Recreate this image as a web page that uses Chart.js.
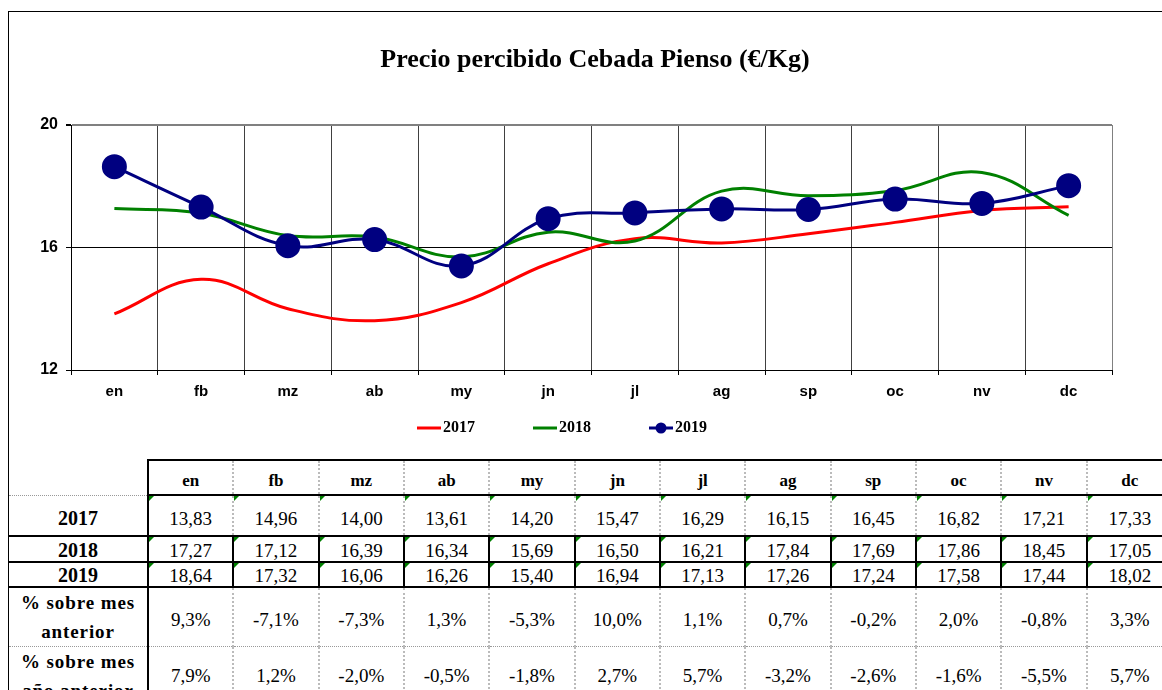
<!DOCTYPE html>
<html>
<head>
<meta charset="utf-8">
<script src="https://cdn.jsdelivr.net/npm/chart.js@4/dist/chart.umd.min.js"></script>
<style>
  body { margin: 0; width: 1162px; height: 690px; overflow: hidden; background: #fff; position: relative; }
  #frame { position: absolute; left: 8px; top: 11px; width: 1200px; height: 700px; border-left: 1px solid #000; border-top: 1px solid #000; }
  #chart { position: absolute; left: 0; top: 0; }
  #tbl { position: absolute; left: 9px; top: 459px; border-collapse: collapse; table-layout: fixed; width: 1163px; font-family: 'Liberation Serif', 'Times New Roman', serif; color: #000; }
  #tbl td { padding: 0; text-align: center; position: relative; }
  #tbl td.hd { font-weight: bold; font-size: 17px; padding-top: 6px; border-top: 2px solid #000; border-left: 2px dotted #bbb; border-bottom: 2px solid #000; }
  #tbl td.yr { font-weight: bold; font-size: 20px; border-right: 2px solid #000; border-bottom: 2px solid #000; }
  #tbl td.v { font-size: 19px; border-left: 2px dotted #bbb; border-bottom: 2px solid #000; }
  #tbl td.v::before { content: ''; position: absolute; left: 0; top: 0; border-top: 5px solid #008000; border-right: 5px solid transparent; }
  #tbl tr.r18 td.v, #tbl tr.r19 td.v { border-left: 2px solid #000; vertical-align: bottom; line-height: 20px; }
  #tbl tr.r18 td.yr, #tbl tr.r19 td.yr { vertical-align: bottom; line-height: 21px; }
  #tbl td.lb { font-weight: bold; font-size: 19px; letter-spacing: 0.9px; line-height: 29px; border-right: 2px solid #000; }
  #tbl td.p { font-size: 19px; border-left: 2px dotted #bbb; padding-top: 6px; }
  #tbl tr.p1 td { border-bottom: 1px dotted #999; }
  #tbl td.first { border-left: 2px solid #000; }
</style>
</head>
<body>
<div id="frame"></div>
<canvas id="chart" width="1162" height="455"></canvas>
<table id="tbl"></table>
<script>
const months = ['en', 'fb', 'mz', 'ab', 'my', 'jn', 'jl', 'ag', 'sp', 'oc', 'nv', 'dc'];
const years = ['2017', '2018', '2019'];
const precio2017 = [13.83, 14.96, 14.00, 13.61, 14.20, 15.47, 16.29, 16.15, 16.45, 16.82, 17.21, 17.33];
const precio2018 = [17.27, 17.12, 16.39, 16.34, 15.69, 16.50, 16.21, 17.84, 17.69, 17.86, 18.45, 17.05];
const precio2019 = [18.64, 17.32, 16.06, 16.26, 15.40, 16.94, 17.13, 17.26, 17.24, 17.58, 17.44, 18.02];
const varMesAnterior = [9.3, -7.1, -7.3, 1.3, -5.3, 10.0, 1.1, 0.7, -0.2, 2.0, -0.8, 3.3];
const varAnioAnterior = [7.9, 1.2, -2.0, -0.5, -1.8, 2.7, 5.7, -3.2, -2.6, -1.6, -5.5, 5.7];
const seriesColors = ['#FF0000', '#008000', '#000080'];

// legend marks: short line (plus dot for 2019)
function legendMark(color, dot) {
    const c = document.createElement('canvas');
    c.width = 80;
    c.height = 14;
    const g = c.getContext('2d');
    g.strokeStyle = color;
    g.lineWidth = 3;
    g.beginPath();
    g.moveTo(55, 7);
    g.lineTo(79, 7);
    g.stroke();
    if (dot) {
        g.fillStyle = color;
        g.beginPath();
        g.arc(67, 7, 5.5, 0, Math.PI * 2);
        g.fill();
    }
    return c;
}
const marks = [legendMark(seriesColors[0], false), legendMark(seriesColors[1], false), legendMark(seriesColors[2], true)];

// move title / legend sideways after layout
const shiftBoxes = {
    id: 'shiftBoxes',
    afterLayout(chart) {
        if (chart.titleBlock) { chart.titleBlock.left += 35; chart.titleBlock.right += 35; }
        if (chart.legend) { chart.legend.left -= 22; chart.legend.right -= 22; }
    }
};

const ctx = document.getElementById('chart');
const chart = new Chart(ctx, {
    type: 'line',
    data: {
        labels: months,
        datasets: [
            { label: years[0], data: precio2017, borderColor: seriesColors[0], borderWidth: 3, pointRadius: 0, tension: 0.4, order: 3 },
            { label: years[1], data: precio2018, borderColor: seriesColors[1], borderWidth: 3, pointRadius: 0, tension: 0.4, order: 2 },
            { label: years[2], data: precio2019, borderColor: seriesColors[2], backgroundColor: seriesColors[2], borderWidth: 3,
              pointRadius: 11, pointHoverRadius: 11, pointBackgroundColor: seriesColors[2], pointBorderColor: seriesColors[2], tension: 0.4, order: 1 }
        ]
    },
    options: {
        responsive: false,
        animation: false,
        devicePixelRatio: 1,
        layout: { padding: { top: 0, left: 8, right: 50, bottom: 9 } },
        scales: {
            x: {
                offset: true,
                afterFit: (s) => { s.height = 40; },
                grid: {
                    offset: true,
                    color: (c) => c.index === undefined ? '#808080' : '#404040',
                    tickColor: '#000',
                    tickLength: 5,
                    lineWidth: 1
                },
                border: { color: '#000', width: 1 },
                ticks: { color: '#000', padding: 8, font: { family: 'Liberation Sans', size: 15, weight: 'bold' } }
            },
            y: {
                min: 12,
                max: 20,
                afterFit: (s) => { s.width = 63; },
                ticks: { stepSize: 4, color: '#000', padding: 8, font: { family: 'Liberation Sans', size: 16, weight: 'bold' } },
                grid: {
                    color: (c) => c.tick && c.tick.value === 20 ? '#808080' : '#000',
                    lineWidth: (c) => c.tick && c.tick.value === 20 ? 2 : 1,
                    tickColor: '#000',
                    tickLength: 5
                },
                border: { color: '#000', width: 1 }
            }
        },
        plugins: {
            title: {
                display: true,
                text: 'Precio percibido Cebada Pienso (€/Kg)',
                color: '#000',
                font: { family: 'Liberation Serif', size: 26, weight: 'bold' },
                padding: { top: 44.4, bottom: 49.4 }
            },
            legend: {
                position: 'bottom',
                labels: {
                    color: '#000',
                    font: { family: 'Liberation Serif', size: 16, weight: 'bold' },
                    usePointStyle: true,
                    pointStyleWidth: 66,
                    padding: 10,
                    sort: (a, b) => a.datasetIndex - b.datasetIndex,
                    generateLabels: (ch) => Chart.defaults.plugins.legend.labels.generateLabels(ch).map((it) => {
                        it.pointStyle = marks[it.datasetIndex];
                        return it;
                    })
                }
            },
            tooltip: { enabled: false }
        }
    },
    plugins: [shiftBoxes]
});

// data table under the chart
const fmt2 = (v) => v.toFixed(2).replace('.', ',');
const fmtP = (v) => v.toFixed(1).replace('.', ',') + '%';
const tbl = document.getElementById('tbl');
let html = '<colgroup><col style="width:139px">' + months.map(() => '<col style="width:85.33px">').join('') + '</colgroup>';
html += '<tr style="height:35px"><td style="border-right:2px solid #000;border-bottom:1px dotted #999"></td>' +
    months.map((m, i) => '<td class="hd' + (i === 0 ? ' first' : '') + '">' + m + '</td>').join('') + '</tr>';
const rows = [precio2017, precio2018, precio2019];
const rowCls = ['r17', 'r18', 'r19'];
const rowH = [41, 26, 25];
rows.forEach((arr, r) => {
    html += '<tr class="' + rowCls[r] + '" style="height:' + rowH[r] + 'px"><td class="yr"' + (r === 0 ? ' style="padding-top:6px"' : '') + '>' + years[r] + '</td>' +
        arr.map((v, i) => '<td class="v' + (i === 0 ? ' first' : '') + '"' + (r === 0 ? ' style="padding-top:6px"' : '') + '>' + fmt2(v) + '</td>').join('') + '</tr>';
});
html += '<tr class="p1" style="height:53px"><td class="lb">% sobre mes<br>anterior</td>' +
    varMesAnterior.map((v, i) => '<td class="p' + (i === 0 ? ' first' : '') + '">' + fmtP(v) + '</td>').join('') + '</tr>';
html += '<tr class="p2" style="height:58px"><td class="lb" style="vertical-align:top;padding-top:0">% sobre mes<br>año anterior</td>' +
    varAnioAnterior.map((v, i) => '<td class="p' + (i === 0 ? ' first' : '') + '" style="vertical-align:top;padding-top:18px">' + fmtP(v) + '</td>').join('') + '</tr>';
tbl.innerHTML = html;
</script>
</body>
</html>
